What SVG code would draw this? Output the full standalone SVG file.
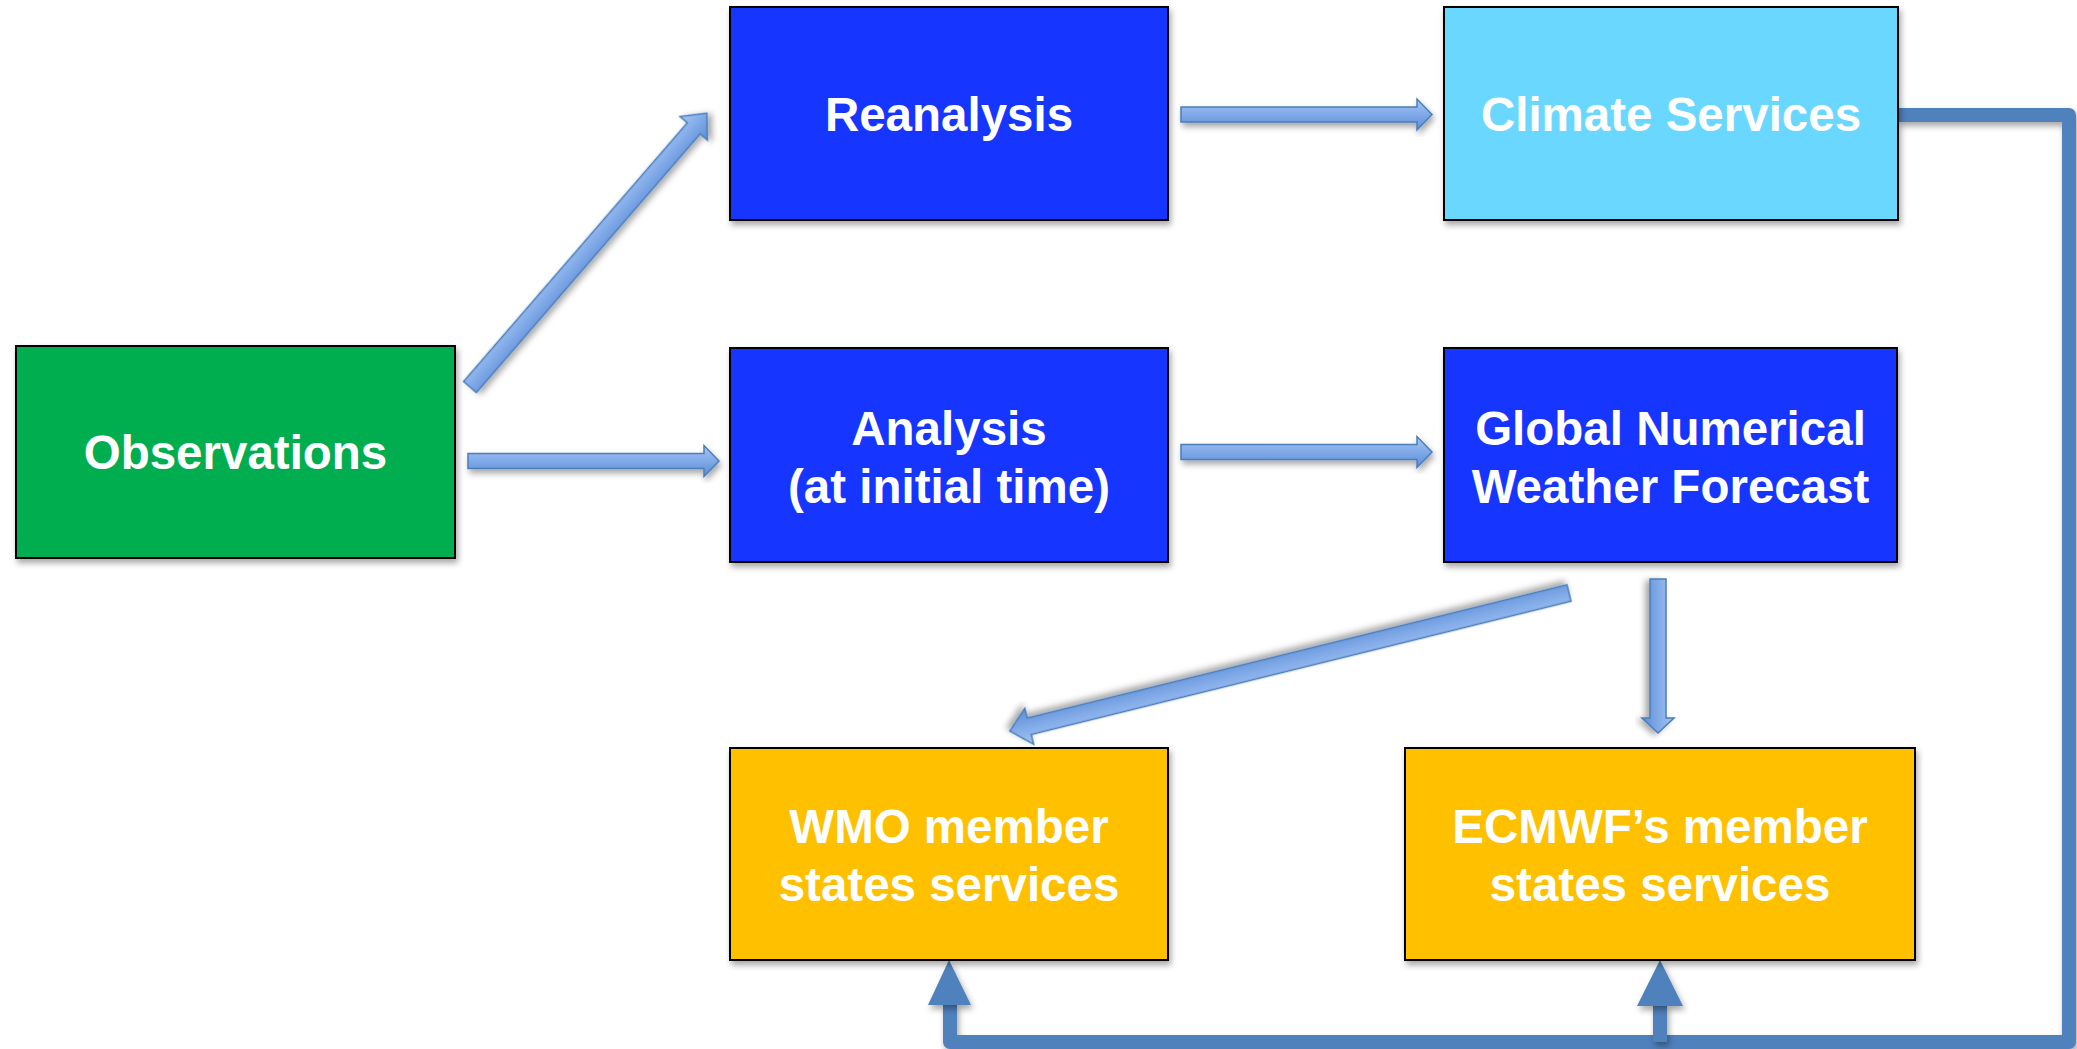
<svg xmlns="http://www.w3.org/2000/svg" width="2077" height="1049" viewBox="0 0 2077 1049">
  <defs>
    <filter id="shadow" x="-10%" y="-10%" width="130%" height="130%">
      <feDropShadow dx="2" dy="4" stdDeviation="3" flood-color="#000" flood-opacity="0.35"/>
    </filter>
    <filter id="shadowUS" filterUnits="userSpaceOnUse" x="0" y="0" width="2077" height="1049">
      <feDropShadow dx="2" dy="4" stdDeviation="3" flood-color="#000" flood-opacity="0.35"/>
    </filter>
    <linearGradient id="arrowGrad" x1="0" y1="0" x2="0" y2="1">
      <stop offset="0" stop-color="#A6C6F4"/>
      <stop offset="0.5" stop-color="#80A9E7"/>
      <stop offset="1" stop-color="#5C8DD6"/>
    </linearGradient>
    <style>
      .box { stroke: #000; stroke-width: 2; filter: url(#shadow); }
      .green { fill: #00AE4F; }
      .blue { fill: #1336FF; }
      .light { fill: #6AD7FE; }
      .yellow { fill: #FFC000; }
      .label { font-family: "Liberation Sans", Arial, sans-serif; font-weight: bold; font-size: 47.5px; fill: #FFFFFF; text-anchor: middle; }
      .barrow { fill: url(#arrowGrad); stroke: #4A7EBB; stroke-width: 1.5; filter: url(#shadow); }
      .conn { fill: none; stroke: #4F81BD; stroke-width: 14; stroke-linejoin: round; filter: url(#shadowUS); }
      .connhead { fill: #4F81BD; filter: url(#shadowUS); }
    </style>
  </defs>
  <rect width="2077" height="1049" fill="#FFFFFF"/>

  <g id="connectors">
    <!-- Block arrows -->
    <g id="arrow-obs-reanalysis" transform="translate(470,387) rotate(-49.14)">
      <path class="barrow" d="M0,-8.5 H342 V-18 L362,0 L342,18 V8.5 H0 Z"/>
    </g>
    <g id="arrow-obs-analysis" transform="translate(468,461)">
      <path class="barrow" d="M0,-7.5 H236 V-15.5 L251,0 L236,15.5 V7.5 H0 Z"/>
    </g>
    <g id="arrow-reanalysis-climate" transform="translate(1181,114.5)">
      <path class="barrow" d="M0,-7.5 H236 V-15.5 L251,0 L236,15.5 V7.5 H0 Z"/>
    </g>
    <g id="arrow-analysis-global" transform="translate(1181,452)">
      <path class="barrow" d="M0,-7.5 H236 V-15.5 L251,0 L236,15.5 V7.5 H0 Z"/>
    </g>
    <g id="arrow-global-wmo" transform="translate(1569,593) rotate(166.13)">
      <path class="barrow" d="M0,-8.5 H556 V-18.5 L576,0 L556,18.5 V8.5 H0 Z"/>
    </g>
    <g id="arrow-global-ecmwf" transform="translate(1658,579) rotate(90)">
      <path class="barrow" d="M0,-8 H139 V-16 L154,0 L139,16 V8 H0 Z"/>
    </g>

    <!-- Feedback connector -->
    <path class="conn" d="M1897,115 H2069 V1042 H950 V1003"/>
    <path class="conn" d="M1660,1042 V1004"/>
    <polygon class="connhead" points="949,960 971,1005 928,1005"/>
    <polygon class="connhead" points="1660,960 1683,1006 1637,1006"/>
  </g>

  <g id="node-observations">
    <rect class="box green" x="16" y="346" width="439" height="212"/>
    <text class="label" x="235.5" y="469">Observations</text>
  </g>
  <g id="node-reanalysis">
    <rect class="box blue" x="730" y="7" width="438" height="213"/>
    <text class="label" x="949" y="131">Reanalysis</text>
  </g>
  <g id="node-climate">
    <rect class="box light" x="1444" y="7" width="454" height="213"/>
    <text class="label" x="1671" y="131">Climate Services</text>
  </g>
  <g id="node-analysis">
    <rect class="box blue" x="730" y="348" width="438" height="214"/>
    <text class="label" x="949" y="445">Analysis</text>
    <text class="label" x="949" y="503">(at initial time)</text>
  </g>
  <g id="node-global">
    <rect class="box blue" x="1444" y="348" width="453" height="214"/>
    <text class="label" x="1670.5" y="445">Global Numerical</text>
    <text class="label" x="1670.5" y="503">Weather Forecast</text>
  </g>
  <g id="node-wmo">
    <rect class="box yellow" x="730" y="748" width="438" height="212"/>
    <text class="label" x="949" y="843">WMO member</text>
    <text class="label" x="949" y="901">states services</text>
  </g>
  <g id="node-ecmwf">
    <rect class="box yellow" x="1405" y="748" width="510" height="212"/>
    <text class="label" x="1660" y="843">ECMWF’s member</text>
    <text class="label" x="1660" y="901">states services</text>
  </g>
</svg>
